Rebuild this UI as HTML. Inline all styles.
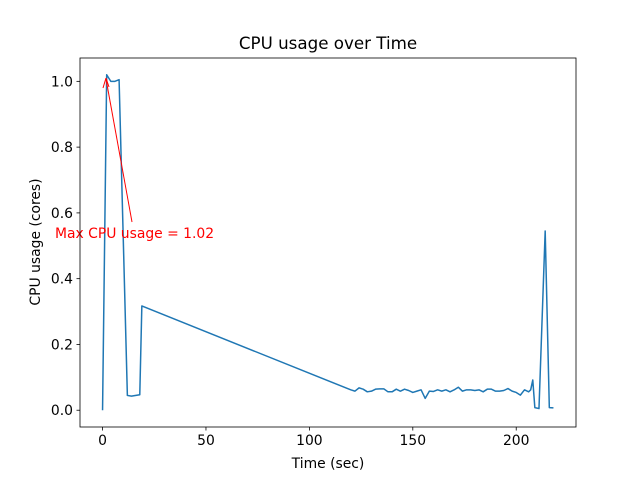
<!DOCTYPE html>
<html><head><meta charset="utf-8"><style>
body{margin:0;background:#fff;}
svg{display:block;font-family:"DejaVu Sans","Liberation Sans",sans-serif;}
</style></head><body>
<svg id="chart" width="640" height="480">
<text x="328" y="49" font-size="16.7" text-anchor="middle">CPU usage over Time</text>
<text x="328" y="468" font-size="13.9" text-anchor="middle">Time (sec)</text>
<text x="0" y="0" font-size="13.9" text-anchor="middle" transform="translate(40,242) rotate(-90)">CPU usage (cores)</text>
<g id="ticks"></g>
<polyline id="line" fill="none" stroke="#1f77b4" stroke-width="1.5" stroke-linejoin="round"/>
<line x1="132" y1="222" x2="106" y2="79" stroke="red" stroke-width="1"/>
<path d="M106,78 L103,88 M106,78 L109,87" stroke="red" fill="none" stroke-width="1"/>
<text x="55" y="238" font-size="13.9" fill="red">Max CPU usage = 1.02</text>
<rect x="80" y="58" width="496" height="369" fill="none" stroke="#000" stroke-width="0.8"/>
</svg>
<script>
const times=[0,2,4,6,8,12,14,18,19,120,122,124,126,128,130,132,134,136,138,140,142,144,146,148,150,152,154,156,158,160,162,164,166,168,170,172,174,176,178,180,182,184,186,188,190,192,194,196,198,200,202,204,206,207,208,209,211,214,216,218];
const usage=[0,1.02,1.0,1.0,1.005,0.045,0.043,0.047,0.317,0.062,0.058,0.068,0.064,0.056,0.058,0.064,0.065,0.065,0.056,0.056,0.064,0.058,0.064,0.060,0.054,0.058,0.062,0.036,0.058,0.057,0.062,0.058,0.062,0.056,0.062,0.070,0.058,0.062,0.062,0.060,0.062,0.056,0.064,0.064,0.058,0.058,0.060,0.066,0.058,0.054,0.046,0.062,0.056,0.062,0.092,0.008,0.005,0.545,0.008,0.007];
const xTicks=[0,50,100,150,200];
const yTicks=[0.0,0.2,0.4,0.6,0.8,1.0];
const X0=80,X1=576,Y0=427,Y1=58;
const xmin=-10.9,xmax=228.9,ymin=-0.051,ymax=1.071;
const sx=v=>X0+(v-xmin)/(xmax-xmin)*(X1-X0);
const sy=v=>Y0-(v-ymin)/(ymax-ymin)*(Y0-Y1);
const NS="http://www.w3.org/2000/svg";
const line=document.getElementById('line');
line.setAttribute('points',times.map((t,i)=>sx(t).toFixed(2)+','+sy(usage[i]).toFixed(2)).join(' '));
const g=document.getElementById('ticks');
xTicks.forEach(t=>{
 const l=document.createElementNS(NS,'line');
 
 
 l.setAttribute('x1',sx(t));l.setAttribute('x2',sx(t));l.setAttribute('y1',Y0);l.setAttribute('y2',Y0+3.5);l.setAttribute('stroke','#000');l.setAttribute('stroke-width','0.8');
 g.appendChild(l);
 const tx=document.createElementNS(NS,'text');
 
 
 tx.setAttribute('x',sx(t));tx.setAttribute('y',Y0+18);tx.setAttribute('font-size','13.9');tx.setAttribute('text-anchor','middle');
 tx.textContent=t;g.appendChild(tx);
});
yTicks.forEach(t=>{
 const l=document.createElementNS(NS,'line');
 
 
 l.setAttribute('x1',X0-3.5);l.setAttribute('x2',X0);l.setAttribute('y1',sy(t));l.setAttribute('y2',sy(t));l.setAttribute('stroke','#000');l.setAttribute('stroke-width','0.8');
 g.appendChild(l);
 const tx=document.createElementNS(NS,'text');
 
 
 tx.setAttribute('x',X0-7);tx.setAttribute('y',sy(t)+5);tx.setAttribute('font-size','13.9');tx.setAttribute('text-anchor','end');
 tx.textContent=t.toFixed(1);g.appendChild(tx);
});
</script>
</body></html>
